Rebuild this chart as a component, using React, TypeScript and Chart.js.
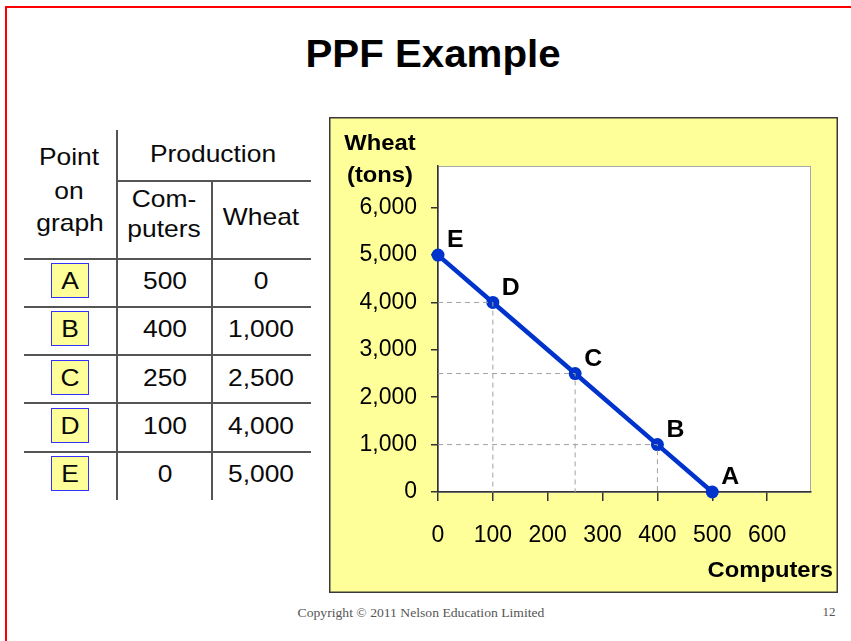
import React, { useEffect, useRef } from 'react';
import { Chart, registerables } from 'chart.js';

Chart.register(...registerables);

// ---------- data ----------
const POINT_LABELS = ['A', 'B', 'C', 'D', 'E'];
const COMPUTERS = [500, 400, 250, 100, 0];
const WHEAT = [0, 1000, 2500, 4000, 5000];
const GUIDE_POINTS = ['B', 'C', 'D'];
const X_TICKS = [0, 100, 200, 300, 400, 500, 600];
const Y_TICKS = [0, 1000, 2000, 3000, 4000, 5000, 6000];
const X_MAX = 680;
const Y_MAX = 6880;
const TITLE = 'PPF Example';
const Y_TITLE = ['Wheat', '(tons)'];
const X_TITLE = 'Computers';
const TABLE_HEAD_POINT = ['Point', 'on', 'graph'];
const TABLE_HEAD_PROD = 'Production';
const TABLE_HEAD_COMP = ['Com-', 'puters'];
const TABLE_HEAD_WHEAT = 'Wheat';
const COPYRIGHT = 'Copyright \u00A9 2011 Nelson Education Limited';
const PAGE_NUMBER = '12';

// ---------- style ----------
const SANS = '"Liberation Sans", Arial, sans-serif';
const SERIF = '"Liberation Serif", "Times New Roman", serif';
const BLUE = '#0033CC';
const YELLOW = '#FFFF99';
const fmt = (v: number) => v.toLocaleString('en-US');

type TxtProps = {
  x: number;
  y: number;
  text: string;
  size: number;
  weight?: string;
  family?: string;
  color?: string;
  sx?: number;
};

function Txt({ x, y, text, size, weight = 'normal', family = SANS, color = '#0a0a0a', sx = 1.1 }: TxtProps) {
  return (
    <div
      style={{
        position: 'absolute',
        left: x,
        top: y,
        transform: `translate(-50%, -50%) scaleX(${sx})`,
        fontFamily: family,
        fontSize: size,
        fontWeight: weight as any,
        color,
        lineHeight: 1,
        whiteSpace: 'nowrap',
      }}
    >
      {text}
    </div>
  );
}

function Line({ x, y, w, h }: { x: number; y: number; w: number; h: number }) {
  return <div style={{ position: 'absolute', left: x, top: y, width: w, height: h, background: '#555555' }} />;
}

function ChartPanel() {
  const ref = useRef<HTMLCanvasElement | null>(null);

  useEffect(() => {
    if (!ref.current) return;

    const guideSets = GUIDE_POINTS.map((lbl) => {
      const i = POINT_LABELS.indexOf(lbl);
      return {
        label: 'guide ' + lbl,
        data: [
          { x: 0, y: WHEAT[i] },
          { x: COMPUTERS[i], y: WHEAT[i] },
          { x: COMPUTERS[i], y: 0 },
        ],
        showLine: true,
        borderColor: '#a0a0a0',
        borderWidth: 1,
        borderDash: [5, 4],
        pointRadius: 0,
        fill: false,
        clip: false as any,
      };
    });

    const panelPlugin = {
      id: 'panel',
      beforeDraw(chart: any) {
        const { ctx, width, height, chartArea: a } = chart;
        ctx.save();
        ctx.fillStyle = YELLOW;
        ctx.fillRect(0, 0, width, height);
        ctx.strokeStyle = '#3a3a3a';
        ctx.lineWidth = 1.5;
        ctx.strokeRect(0.75, 0.75, width - 1.5, height - 1.5);
        ctx.fillStyle = '#ffffff';
        ctx.fillRect(a.left, a.top, a.right - a.left, a.bottom - a.top);
        ctx.strokeStyle = '#a8a8a8';
        ctx.lineWidth = 1;
        ctx.strokeRect(a.left + 0.5, a.top + 0.5, a.right - a.left - 1, a.bottom - a.top);
        ctx.restore();
      },
      afterDraw(chart: any) {
        const { ctx, scales, chartArea: a } = chart;
        const put = (t: string, x: number, y: number, align: CanvasTextAlign) => {
          ctx.save();
          ctx.translate(x, y);
          ctx.scale(1.08, 1);
          ctx.textAlign = align;
          ctx.textBaseline = 'middle';
          ctx.fillText(t, 0, 0);
          ctx.restore();
        };
        ctx.save();
        ctx.fillStyle = '#000';
        ctx.font = `bold 23px ${SANS}`;
        POINT_LABELS.forEach((lbl, i) => {
          const px = scales.x.getPixelForValue(COMPUTERS[i]);
          const py = scales.y.getPixelForValue(WHEAT[i]);
          put(lbl, px + 9, py - 14, 'left');
        });
        ctx.font = `bold 22px ${SANS}`;
        put(Y_TITLE[0], 51, 27, 'center');
        put(Y_TITLE[1], 51, 59, 'center');
        put(X_TITLE, chart.width - 5, a.bottom + 79, 'right');
        ctx.restore();
      },
    };

    const tickFont = { family: SANS, size: 23 };

    const chart = new Chart(ref.current, {
      type: 'scatter',
      data: {
        datasets: [
          ...guideSets,
          {
            label: 'PPF',
            data: COMPUTERS.map((c, i) => ({ x: c, y: WHEAT[i] })),
            showLine: true,
            borderColor: BLUE,
            borderWidth: 4.5,
            pointRadius: 6.5,
            pointBackgroundColor: BLUE,
            pointBorderColor: BLUE,
            pointBorderWidth: 0,
            fill: false,
            clip: false as any,
          },
        ] as any,
      },
      options: {
        animation: false,
        responsive: false,
        maintainAspectRatio: false,
        devicePixelRatio: 1,
        layout: { padding: { top: 49, right: 27, left: 0, bottom: 0 } },
        plugins: { legend: { display: false }, tooltip: { enabled: false } },
        scales: {
          x: {
            type: 'linear',
            min: 0,
            max: X_MAX,
            afterBuildTicks: (s: any) => {
              s.ticks = X_TICKS.map((v) => ({ value: v }));
            },
            afterFit: (s: any) => {
              s.height = 101;
            },
            grid: { display: true, drawOnChartArea: false, drawTicks: true, tickLength: 9, color: '#333', lineWidth: 1.5 },
            border: { display: true, color: '#333', width: 1.5 },
            ticks: { font: tickFont, color: '#000', padding: 21, maxRotation: 0, autoSkip: false, callback: (v: any) => String(v) },
          },
          y: {
            type: 'linear',
            min: 0,
            max: Y_MAX,
            afterBuildTicks: (s: any) => {
              s.ticks = Y_TICKS.map((v) => ({ value: v }));
            },
            afterFit: (s: any) => {
              s.width = 109;
            },
            grid: { display: true, drawOnChartArea: false, drawTicks: true, tickLength: 7, color: '#333', lineWidth: 1.5 },
            border: { display: true, color: '#333', width: 1.5 },
            ticks: { font: tickFont, color: '#000', padding: 14, autoSkip: false, callback: (v: any) => fmt(Number(v)) },
          },
        },
      } as any,
      plugins: [panelPlugin],
    });

    return () => chart.destroy();
  }, []);

  return (
    <canvas
      ref={ref}
      width={509}
      height={476}
      style={{ position: 'absolute', left: 329, top: 117, width: 509, height: 476 }}
    />
  );
}

export default function App() {
  const rowLines = [258, 306, 354, 402, 451];
  const rowCenters = [280, 328, 377, 425, 473];
  return (
    <div
      style={{
        position: 'fixed',
        left: 0,
        top: 0,
        width: 851,
        height: 641,
        overflow: 'hidden',
        background: '#ffffff',
      }}
    >
      {/* slide border */}
      <div
        style={{
          position: 'absolute',
          left: 5,
          top: 6,
          width: 2000,
          height: 2000,
          borderLeft: '2px solid #ff0000',
          borderTop: '2px solid #ff0000',
        }}
      />
      <Txt x={433} y={54} text={TITLE} size={38} weight="bold" color="#000" sx={1.06} />

      {/* table */}
      <Line x={116} y={130} w={2} h={370} />
      <Line x={211} y={180} w={2} h={320} />
      <Line x={117} y={180} w={194} h={2} />
      {rowLines.map((y) => (
        <Line key={y} x={24} y={y} w={287} h={2} />
      ))}
      <Txt x={69} y={157} text={TABLE_HEAD_POINT[0]} size={24} />
      <Txt x={69} y={191} text={TABLE_HEAD_POINT[1]} size={24} />
      <Txt x={70} y={223} text={TABLE_HEAD_POINT[2]} size={24} />
      <Txt x={213} y={154} text={TABLE_HEAD_PROD} size={24} />
      <Txt x={164} y={199} text={TABLE_HEAD_COMP[0]} size={24} />
      <Txt x={164} y={229} text={TABLE_HEAD_COMP[1]} size={24} />
      <Txt x={261} y={217} text={TABLE_HEAD_WHEAT} size={24} />
      {POINT_LABELS.map((lbl, i) => (
        <React.Fragment key={lbl}>
          <div
            style={{
              position: 'absolute',
              left: 51,
              top: rowCenters[i] - 17,
              width: 38,
              height: 35,
              boxSizing: 'border-box',
              background: YELLOW,
              border: '1.5px solid #3333ff',
            }}
          />
          <Txt x={70} y={rowCenters[i] + 1} text={lbl} size={24} />
          <Txt x={165} y={rowCenters[i] + 1} text={fmt(COMPUTERS[i])} size={24} />
          <Txt x={261} y={rowCenters[i] + 1} text={fmt(WHEAT[i])} size={24} />
        </React.Fragment>
      ))}

      <ChartPanel />

      <Txt x={421} y={612} text={COPYRIGHT} size={13} family={SERIF} color="#555" sx={1.05} />
      <Txt x={829} y={611} text={PAGE_NUMBER} size={13} family={SERIF} color="#555" sx={1.0} />
    </div>
  );
}
